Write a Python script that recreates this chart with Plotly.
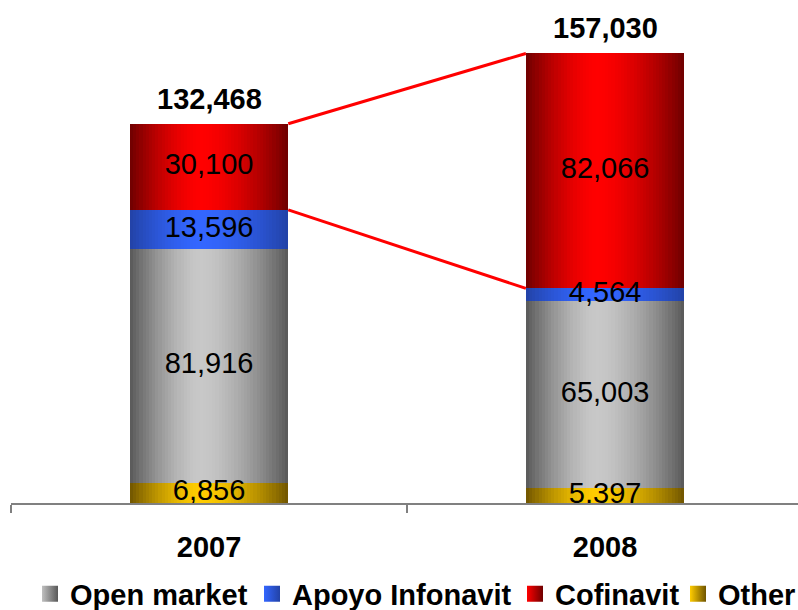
import plotly.graph_objects as go

years = ["2007", "2008"]
series_names = ["Other", "Open market", "Apoyo Infonavit", "Cofinavit"]
other = [6856, 5397]
open_market = [81916, 65003]
apoyo_infonavit = [13596, 4564]
cofinavit = [30100, 82066]
totals = [132468, 157030]

series_vals = [other, open_market, apoyo_infonavit, cofinavit]

# gradient styles (dark edge, light centre)
dark = {"Other": (0x70, 0x55, 0x00), "Open market": (0x58, 0x58, 0x58),
        "Apoyo Infonavit": (0x22, 0x42, 0xA6), "Cofinavit": (0x6E, 0x00, 0x00)}
light = {"Other": (0xFF, 0xCC, 0x00), "Open market": (0xC8, 0xC8, 0xC8),
         "Apoyo Infonavit": (0x33, 0x66, 0xFF), "Cofinavit": (0xFF, 0x00, 0x00)}

FONT = "Liberation Sans, Arial, sans-serif"
BW = 0.4
N = 50
C = 0.45


def grad_color(name, t):
    d = (t - C) / C if t < C else (t - C) / (1 - C)
    f = 1 - abs(d) ** 1.6
    a, b = dark[name], light[name]
    return "rgb(%d,%d,%d)" % tuple(int(round(a[i] + (b[i] - a[i]) * f)) for i in range(3))


fig = go.Figure()

bases = []
run = [0, 0]
for vals in series_vals:
    bases.append(list(run))
    run = [run[i] + vals[i] for i in range(2)]

for name, vals, base in zip(series_names, series_vals, bases):
    for k in range(N):
        off = -BW / 2 + k * BW / N
        w = min(BW / N * 1.8, BW / 2 - off)
        fig.add_trace(go.Bar(
            x=years, y=vals, base=base, offset=off, width=w,
            marker=dict(color=grad_color(name, (k + 0.5) / N), line=dict(width=0)),
            showlegend=False, hoverinfo="skip", textposition="none"))

# segment labels
for name, vals, base in zip(series_names, series_vals, bases):
    fig.add_trace(go.Scatter(
        x=years, y=[base[i] + vals[i] / 2 for i in range(2)],
        mode="text", text=["{:,}".format(v) for v in vals],
        textfont=dict(family=FONT, size=29, color="black"),
        textposition="middle center", showlegend=False, hoverinfo="skip"))

# connector lines (Cofinavit top and bottom)
xi = [0 + BW / 2, 1 - BW / 2]
cof_base = bases[3]
for ys in ([cof_base[0] + cofinavit[0], cof_base[1] + cofinavit[1]], cof_base):
    fig.add_trace(go.Scatter(
        x=xi, y=ys, xaxis="x2", mode="lines",
        line=dict(color="#FF0000", width=3), showlegend=False, hoverinfo="skip"))

# totals
for i, t in enumerate(totals):
    fig.add_annotation(x=i, y=t, xref="x2", yref="y", text="<b>{:,}</b>".format(t),
                       showarrow=False, yanchor="bottom", yshift=7,
                       font=dict(family=FONT, size=29, color="black"))

# legend entries
legend_order = ["Open market", "Apoyo Infonavit", "Cofinavit", "Other"]
legend_px = [30, 252, 515, 678]
mid_col = {"Open market": "#c0c0c0", "Apoyo Infonavit": "#3366FF",
           "Cofinavit": "#FF0000", "Other": "#FFCC00"}
for i, name in enumerate(legend_order):
    lg = "legend" if i == 0 else "legend%d" % (i + 1)
    fig.add_trace(go.Scatter(
        x=[None], y=[None], mode="markers", name=name, legend=lg,
        marker=dict(symbol="square", size=19, color=mid_col[name],
                    gradient=dict(type="horizontal", color=grad_color(name, 0.0)),
                    line=dict(width=0)),
        hoverinfo="skip"))

L, R, T, B = 11, 0, 2, 107
W, H = 798, 610
pw = W - L - R
ph = H - T - B

layout_legends = {}
for i, px in enumerate(legend_px):
    key = "legend" if i == 0 else "legend%d" % (i + 1)
    layout_legends[key] = dict(
        x=(px - L) / pw, xanchor="left", y=(H - B - 594) / ph, yanchor="middle",
        orientation="h", bgcolor="rgba(0,0,0,0)", borderwidth=0,
        itemsizing="trace",
        font=dict(family=FONT, size=29, color="black", weight="bold"))

fig.update_layout(
    width=W, height=H,
    margin=dict(l=L, r=R, t=T, b=B, autoexpand=False),
    paper_bgcolor="white", plot_bgcolor="white",
    barmode="overlay", bargap=0,
    xaxis=dict(type="category", range=[-0.5, 1.487], tickson="boundaries",
               ticks="outside", ticklen=8, tickwidth=2, tickcolor="#808080",
               showline=True, linecolor="#808080", linewidth=2, showgrid=False,
               zeroline=False, ticklabelstandoff=17, automargin=False,
               tickfont=dict(family=FONT, size=29, color="black", weight="bold")),
    xaxis2=dict(overlaying="x", range=[-0.5, 1.487], visible=False),
    yaxis=dict(range=[0, 175000], visible=False, automargin=False),
    **layout_legends,
)

fig.write_html("out.html", config={"displayModeBar": False},
               post_script="document.body.style.margin='0';document.body.style.overflow='hidden';")
